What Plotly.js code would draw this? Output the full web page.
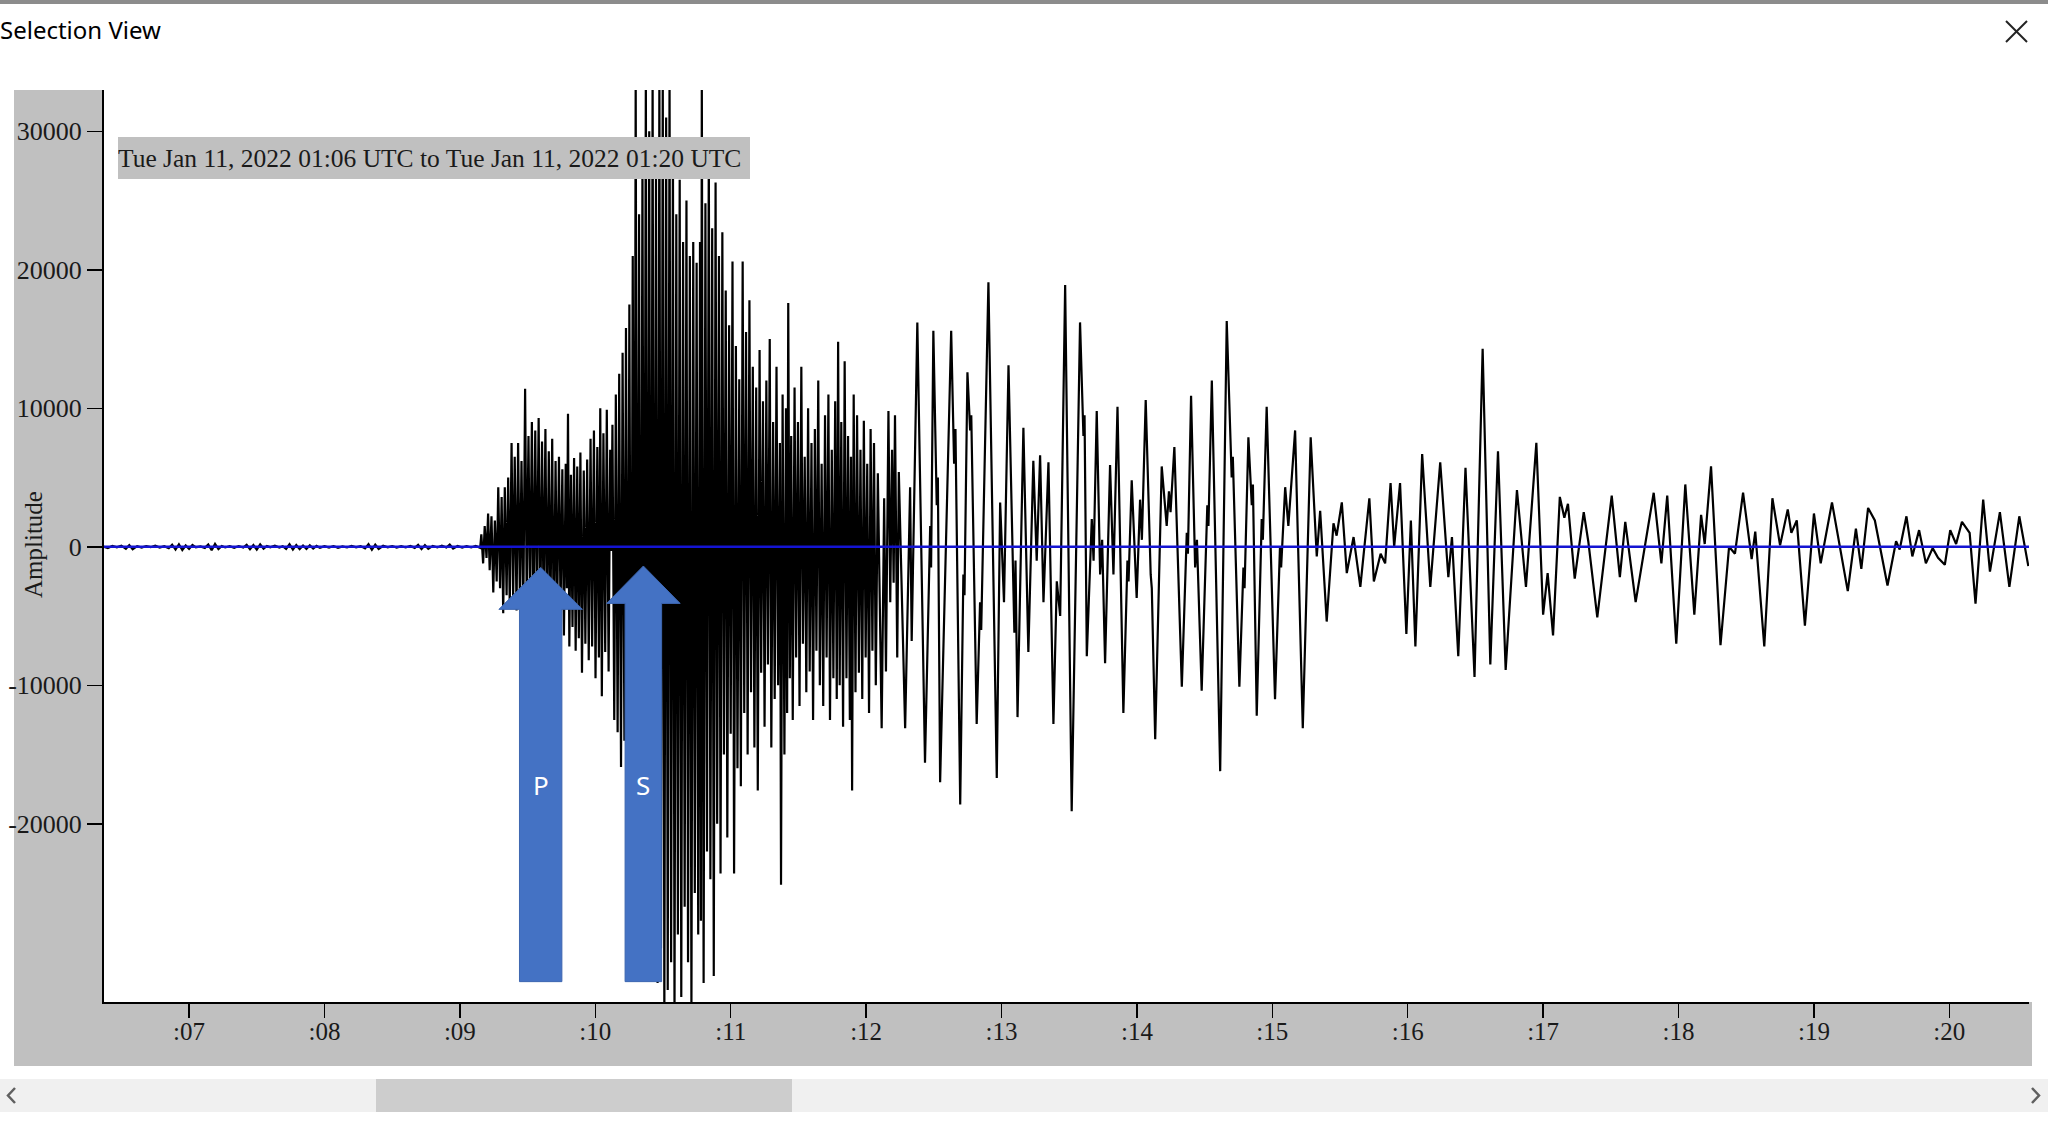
<!DOCTYPE html>
<html><head><meta charset="utf-8">
<script src="https://cdn.plot.ly/plotly-3.0.1.min.js"></script>
<style>html,body{margin:0;padding:0;background:#fff;overflow:hidden}#chart{width:2048px;height:1124px}</style>
</head><body><div id="chart"></div>
<script>
// ---- data (time in seconds after 01:06:00 UTC, amplitude in counts) ----
const tickSeconds = [60,120,180,240,300,360,420,480,540,600,660,720,780,840];
const tickLabels = [':07',':08',':09',':10',':11',':12',':13',':14',':15',':16',':17',':18',':19',':20'];
const amplitudeTicks = [-20000,-10000,0,10000,20000,30000];
const amplitudeTickLabels = ['-20000','-10000','0','10000','20000','30000'];
const timeRangeLabel = 'Tue Jan 11, 2022 01:06 UTC to Tue Jan 11, 2022 01:20 UTC';
const phasePicks = [{label:'P', t:215.8}, {label:'S', t:261.3}];

const preEventNoise = [[22.3,0],[24,-90],[26,60],[28,-40],[30,80],[32,-150],[33.5,120],[35,-180],[37,40],[39,-60],[41,50],[43,-30],[45,70],[47,-60],[49,40],[51,-110],[52.5,150],[54,-200],[55.5,180],[57,-230],[58.5,90],[60,-160],[61.5,130],[63,-40],[65,30],[67,-80],[68.5,160],[70,-250],[71.5,200],[73,-170],[74.5,60],[76,-50],[78,40],[80,-70],[82,50],[84,-60],[85.5,140],[87,-180],[88.5,120],[90,-210],[91.5,170],[93,-140],[94.5,60],[96,-40],[98,70],[100,-60],[101.5,40],[103,-150],[104.5,180],[106,-200],[107.5,130],[109,-170],[110.5,90],[112,-160],[113.5,110],[115,-130],[116.5,60],[118,-80],[120,40],[122,-60],[124,50],[126,-70],[128,30],[130,-50],[132,60],[134,-40],[136,50],[138,-120],[139.5,180],[141,-220],[142.5,150],[144,-160],[146,70],[148,-40],[150,50],[152,-60],[154,40],[156,-50],[158,60],[160,-80],[161.5,140],[163,-170],[164.5,120],[166,-150],[168,60],[170,-50],[172,70],[174,-60],[175.5,160],[177,-130],[179,50],[181,-60],[183,40],[185,-50],[187,60],[189,-80]];

const pWaveTrain = [[189.5,900],[190.3,-1200],[191,1500],[191.8,-800],[192.5,2400],[193.2,-1700],[194,2200],[194.8,-3300],[195.5,1900],[196.3,-2500],[197,4300],[197.8,-3000],[198.5,3600],[199.2,-4800],[199.9,4300],[200.7,-3500],[201.4,5000],[202.1,-4200],[202.9,7500],[203.6,-3800],[204.3,6500],[205.1,-4600],[205.8,7500],[206.6,-4000],[207.3,6200],[208.1,-4800],[208.9,11400],[209.6,-3600],[210.4,8000],[211.1,-4500],[211.9,9000],[212.6,-5200],[213.4,8400],[214.1,-4000],[214.9,9300],[215.6,-5500],[216.4,7600],[217.1,-4800],[217.9,8500],[218.6,-6000],[219.4,6900],[220.1,-5200],[220.9,7800],[221.6,-6800],[222.4,6200],[223.1,-5000],[223.9,6500],[224.6,-4600],[225.4,5600],[226.1,-6400],[226.9,6000],[227.4,-3000],[227.9,9600],[228.5,-7200],[229.2,5200],[229.9,-5800],[230.6,6400],[231.3,-7500],[232,5800],[232.7,-6600],[233.4,6800],[234.1,-9100],[234.9,5500],[235.6,-7000],[236.4,6300],[237.1,-8200],[237.9,7800],[238.6,-7200],[239.4,8400],[240.1,-9500],[240.9,7200],[241.6,-8000],[242.2,10000],[242.9,-10800],[243.6,8200],[244.4,-7600],[245.1,9900],[245.9,-9000],[246.6,7000],[247.1,-300],[247.6,8800],[248.4,-12500],[249.1,11000],[249.9,-13400]];

const sWaveTrain = [[250.6,12500],[251.4,-15900],[252.1,14000],[252.9,-14000],[253.6,15800],[254.4,-18000],[255.1,17500],[255.9,-21000],[256.6,21000],[257.3,-20000],[257.9,34000],[258.6,-24000],[259.4,24000],[260.1,-26000],[260.9,28000],[261.6,-23000],[262.4,34000],[263.1,-28000],[263.9,30000],[264.6,-30000],[265.4,34000],[266.1,-27000],[266.9,27000],[267.6,-31500],[268.4,34000],[269.1,-29000],[269.9,34000],[270.6,-34000],[271.4,31000],[272.1,-32000],[272.9,34000],[273.6,-30000],[274.4,29000],[275.1,-34000],[275.9,24000],[276.6,-28000],[277.4,26500],[278.1,-32500],[278.9,22000],[279.6,-26000],[280.4,25000],[281.1,-30000],[281.9,21000],[282.6,-33500],[283.4,22000],[284.1,-25000],[284.9,20500],[285.6,-28000],[286.4,22000],[286.8,-27000],[287.2,34000],[288,-31500],[288.8,24800],[289.5,-22000],[290.3,29000],[291,-24000],[291.8,23000],[292.5,-31000],[293.3,26300],[294,-20000],[294.8,21000],[295.5,-23600],[296.3,22700],[297,-15000],[297.8,18500],[298.5,-21000],[299.3,16000],[300,-13500],[300.8,20600],[301.5,-23600],[302.3,14500],[303,-16000],[303.8,12100],[304.5,-17300],[305.3,20600],[306,-12000],[306.8,15500],[307.5,-15000],[308.3,17800],[309,-10500],[309.8,13000],[310.5,-14500],[311.3,11500],[312,-17600],[312.8,14200],[313.5,-9100],[314.3,10500],[315,-13000],[315.8,12000],[316.5,-8500],[317.3,15000],[318,-14500],[318.8,9000],[319.5,-11000],[320.3,13000],[321,-10000],[321.8,7500],[322.3,-24400],[323,11000],[323.8,-15000],[324.5,10000],[325,-12000],[325.5,17600],[326.2,-9500],[326.8,8000],[327.5,-12500],[328.3,11500],[329,-8000],[329.8,9000],[330.5,-11500],[331.3,13000],[332,-7000],[332.8,6500],[333.5,-10500],[334.3,10000],[335,-9000],[335.8,7500],[336.5,-12500],[337.3,8500],[338,-7500],[338.8,12000],[339.5,-10000],[340.3,6000],[341,-11500],[341.8,9500],[342.5,-8000],[343.3,11000],[344,-12500],[344.8,7000],[345.5,-9500],[346.3,10500],[347,-11000],[347.6,14800],[348.3,-10000],[349,9000],[349.8,-13000],[350.5,13400],[351.3,-9500],[352,8000],[352.8,-12500],[353.3,6500],[353.8,-17600],[354.5,11000],[355.3,-10500],[356,9500],[356.8,-9100],[357.5,7000],[358.3,-11000],[359,9100],[359.8,-8000],[360.5,6000],[361.3,-12000],[362,8500],[362.8,-7500],[363.5,7500],[364.3,-10000],[365.2,5300],[366.9,-13100],[368,3500],[368.8,-9000],[369.9,9800],[370.7,-4000],[371.5,7000],[372.2,-2600],[372.8,9500],[373.8,-8000],[374.5,5400],[377.3,-13100]];

const surfaceWaveTrain = [[379.5,4300],[380.2,-6800],[382.7,16200],[386.1,-15600],[388.4,1500],[388.8,-1500],[389.8,15600],[391.3,3000],[391.8,5000],[392.8,-17000],[397.7,15600],[399,6000],[399.6,8500],[401.7,-18600],[403.1,-2000],[403.6,-3500],[404.9,12600],[406.1,8400],[406.6,9500],[409,-12800],[410.5,-4000],[411,-6000],[414.2,19100],[417.9,-16700],[419.4,3200],[421.1,-4000],[423.1,13100],[425.7,-6200],[426.2,-1000],[427.1,-12300],[429.7,8600],[431.9,-7600],[434.1,6200],[435.6,-1000],[437.1,6600],[438.6,-4000],[440.8,6100],[443,-12800],[444.5,-2500],[446,-5000],[448.2,18900],[451.1,-19100],[454.8,16200],[456.3,8000],[456.8,9500],[457.8,-7900],[460,2000],[460.8,-1000],[462.2,9800],[463.7,-2000],[464.6,500],[465.9,-8400],[468.1,5900],[469.6,-2000],[471.4,10100],[474,-12000],[475.8,-1000],[476.3,-2500],[477.7,4800],[479.9,-3700],[481.4,3400],[482.2,500],[483.9,10600],[486.1,-2000],[486.6,-3000],[488.1,-13900],[491,5800],[493.2,1500],[494.2,4000],[494.9,2500],[496.6,7200],[499.9,-10100],[502.1,1000],[502.6,-500],[504,10900],[505.8,-1500],[506.6,500],[508.7,-10400],[511.2,3000],[511.7,1500],[513.2,12000],[516.9,-16200],[519.8,16300],[522,5000],[522.5,6500],[525.4,-10100],[527.2,-1500],[527.7,-3000],[529.4,7900],[530.9,3000],[531.4,4500],[533.1,-12200],[535.3,2000],[535.8,500],[537.5,10100],[541.2,-11000],[543.4,0],[543.9,-1500],[545.7,4300],[547.1,1500],[550.1,8400],[553.5,-13100],[557,7900],[559.7,-700],[561.2,2600],[564.1,-5400],[567.1,1700],[568.5,800],[570.8,3200]];

const codaTrain = [[573,-1900],[576,700],[579,-2900],[583,3500],[585,-2500],[588,-500],[590,-1200],[592.4,4600],[594,0],[596.6,4600],[599.4,-6300],[601.4,1900],[603.4,-7200],[606.4,6700],[610,-2900],[614.4,6100],[618,-2200],[619.6,700],[622.4,-7900],[625.6,5700],[629.6,-9400],[633.2,14300],[636.6,-8500],[640,6900],[643.4,-8900],[648.4,4100],[652.4,-2900],[657,7500],[660,-4900],[662,-1900],[664.4,-6400],[667.4,3600],[669.4,2100],[671,3100],[674,-2300],[678,2500],[680,400],[684,-5100],[690.4,3700],[694,-2200],[696.4,1800],[701,-4000],[709,3900],[712.4,-1200],[715,3700],[719,-7000],[723,4500],[727,-4900],[730,2300],[731.6,200],[734.4,5800],[738.6,-7100],[742.4,0],[745,-500],[748.6,3900],[752.4,-900],[754,1100],[758,-7200],[761.6,3500],[765,100],[768.4,2700],[770,1000],[772.4,1900],[776,-5700],[780,2400],[783,-1200],[788,3200],[795,-3200],[798.6,1300],[801,-1600],[804,2800],[807,1900],[812.6,-2800],[816.4,400],[818,-200],[821,2200],[823.6,-700],[826.6,1200],[829.6,-1200],[832.6,-100],[835,-800],[838,-1300],[840.4,1200],[843,200],[845.6,1800],[849,1000],[851.6,-4100],[855,3400],[858,-1800],[862.4,2500],[866.6,-2900],[871,2200],[875,-1400]];

// ---- assemble ----
const samples = [].concat(preEventNoise, pWaveTrain, sWaveTrain, surfaceWaveTrain, codaTrain);
const timeSec = samples.map(p => p[0]);
const amplitude = samples.map(p => p[1]);

// layout geometry (pixels of the 2048x1124 page)
const W = 2048, H = 1124;
const M = {l:104, r:19, t:90, b:122};
const PW = W - M.l - M.r, PH = H - M.t - M.b;
const px = x => (x - M.l) / PW;
const py = y => (H - M.b - y) / PH;

const SERIF = 'Liberation Serif, Times New Roman, serif';
const SANS = 'Noto Sans, Open Sans, sans-serif';

const arrowStyle = {P:{hw:9.4, hh:18.5, tip:-1490, base:-4520}, S:{hw:8.1, hh:16.3, tip:-1390, base:-4090}};
const arrowBottom = -31400, labelY = -17200;

const shapes = [
  {type:'rect', xref:'paper', yref:'paper', x0:px(14), x1:px(M.l), y0:py(1066), y1:py(M.t), fillcolor:'#c0c0c0', line:{width:0}, layer:'below'},
  {type:'rect', xref:'paper', yref:'paper', x0:px(M.l), x1:px(2032), y0:py(1066), y1:py(H-M.b), fillcolor:'#c0c0c0', line:{width:0}, layer:'below'},
  {type:'rect', xref:'paper', yref:'paper', x0:px(0), x1:px(W), y0:py(1112), y1:py(1079), fillcolor:'#f0f0f0', line:{width:0}, layer:'below'},
  {type:'rect', xref:'paper', yref:'paper', x0:px(376), x1:px(792), y0:py(1112), y1:py(1079), fillcolor:'#cdcdcd', line:{width:0}, layer:'below'},
  {type:'rect', xref:'paper', yref:'paper', x0:px(0), x1:px(W), y0:py(4), y1:py(0), fillcolor:'#8c8c8c', line:{width:0}, layer:'below'},
  {type:'line', xref:'paper', yref:'paper', x0:px(2006), y0:py(21), x1:px(2027), y1:py(42), line:{color:'#222', width:2}},
  {type:'line', xref:'paper', yref:'paper', x0:px(2006), y0:py(42), x1:px(2027), y1:py(21), line:{color:'#222', width:2}},
  {type:'path', xref:'paper', yref:'paper', path:`M ${px(15)},${py(1088)} L ${px(8)},${py(1095.5)} L ${px(15)},${py(1103)}`, line:{color:'#606060', width:2.5}},
  {type:'path', xref:'paper', yref:'paper', path:`M ${px(2032)},${py(1088)} L ${px(2039)},${py(1095.5)} L ${px(2032)},${py(1103)}`, line:{color:'#606060', width:2.5}},
  {type:'line', xref:'paper', yref:'y', x0:0, x1:1, y0:0, y1:0, line:{color:'#1414d2', width:2.5}, layer:'above'}
];
phasePicks.forEach(p => {
  const a = arrowStyle[p.label], t = p.t;
  shapes.push({type:'path', xref:'x', yref:'y', layer:'above', fillcolor:'#4472c4', line:{color:'#3d66b0', width:1},
    path:`M ${t-a.hw},${arrowBottom} L ${t-a.hw},${a.base} L ${t-a.hh},${a.base} L ${t},${a.tip} L ${t+a.hh},${a.base} L ${t+a.hw},${a.base} L ${t+a.hw},${arrowBottom} Z`});
});

const annotations = [
  {xref:'paper', yref:'paper', x:px(33), y:py(545), text:'Amplitude', textangle:-90, showarrow:false, xanchor:'center', yanchor:'middle', font:{family:SERIF, size:25, color:'#1a1a1a'}},
  {xref:'paper', yref:'paper', x:px(118), y:py(137), xanchor:'left', yanchor:'top', text:timeRangeLabel, showarrow:false, bgcolor:'#c0c0c0', borderwidth:0, borderpad:0, width:632, height:42, align:'left', font:{family:SERIF, size:25.5, color:'#1a1a1a'}}
];
phasePicks.forEach(p => annotations.push({xref:'x', yref:'y', x:p.t, y:labelY, text:p.label, showarrow:false, font:{family:SANS, size:26, color:'#ffffff'}}));

const trace = {type:'scatter', mode:'lines', x:timeSec, y:amplitude, line:{color:'#000000', width:2.2, simplify:false}, hoverinfo:'skip', showlegend:false};

const layout = {
  width:W, height:H, autosize:false,
  margin:{l:M.l, r:M.r, t:M.t, b:M.b, pad:0},
  paper_bgcolor:'#ffffff', plot_bgcolor:'#ffffff',
  showlegend:false,
  title:{text:'Selection View', xref:'container', yref:'container', x:0, xanchor:'left', y:1-31/H, yanchor:'middle', font:{family:SANS, size:24, color:'#000'}},
  xaxis:{range:[22.3,875.3], tickmode:'array', tickvals:tickSeconds, ticktext:tickLabels, ticks:'outside', ticklen:14, tickwidth:1.5, tickcolor:'#000', ticklabelstandoff:-8, showline:true, linecolor:'#000', linewidth:2, showgrid:false, zeroline:false, tickfont:{family:SERIF, size:25, color:'#1a1a1a'}, fixedrange:true},
  yaxis:{range:[-32870,32980], tickmode:'array', tickvals:amplitudeTicks, ticktext:amplitudeTickLabels, ticks:'outside', ticklen:15, tickwidth:1.5, tickcolor:'#000', showline:true, linecolor:'#000', linewidth:2, showgrid:false, zeroline:false, tickfont:{family:SERIF, size:26, color:'#1a1a1a'}, fixedrange:true},
  shapes:shapes, annotations:annotations
};
Plotly.newPlot('chart', [trace], layout, {displayModeBar:false, staticPlot:true});
</script>
</body></html>
